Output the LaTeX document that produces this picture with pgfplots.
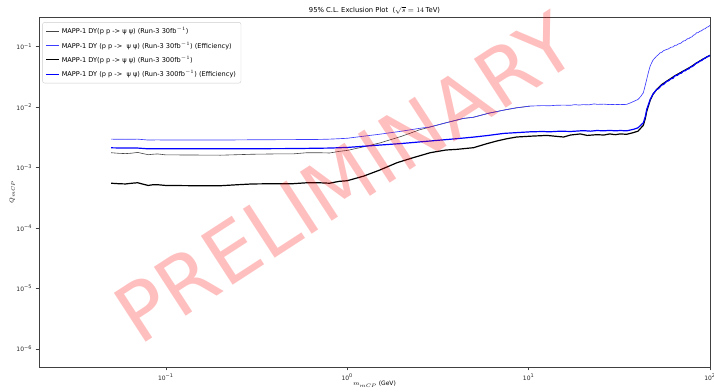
\documentclass[border=0pt]{standalone}
\usepackage{pgfplots}
\pgfplotsset{compat=1.18}
\usepackage{fontspec}
\setmainfont{DejaVu Sans}
\definecolor{lblue}{RGB}{60,60,255}
\definecolor{dgray}{RGB}{70,70,70}
\newcommand\logtick[1]{\pgfmathparse{int(round(#1))}\edef\lt{\pgfmathresult}10\textsuperscript{\ifnum\lt<0 −\the\numexpr-\lt\relax\else\lt\fi}}

\begin{document}
\begin{tikzpicture}[x=1pt,y=1pt]
\useasboundingbox (0,0) rectangle (714,391);
\begin{axis}[
  at={(39pt,24pt)}, anchor=south west,
  scale only axis, width=671pt, height=350pt,
  xmode=log, ymode=log, log basis x=10, log basis y=10,
  xmin=0.02, xmax=100, ymin=5e-7, ymax=0.31,
  axis line style={black!75, line width=0.6pt},
  xtick pos=bottom, ytick pos=left,
  tick align=outside,
  tick style={black!75, line width=0.5pt},
  major tick length=3.5pt, minor tick length=2pt,
  ticklabel style={font=\fontsize{6}{7}\selectfont, text=black!85},
  xtick={0.1,1,10,100}, ytick={1e-6,1e-5,1e-4,1e-3,1e-2,1e-1},
  xticklabel={\logtick{\tick}}, yticklabel={\logtick{\tick}},
  every axis title shift=0pt,
  title={95\% C.L. Exclusion Plot\ \ (\(\sqrt{s} = 14\,\)TeV)},
  title style={font=\fontsize{6.8}{8}\selectfont, at={(axis description cs:0.5,1.018)}, anchor=center},
  xlabel={\(m_{mCP}\) (GeV)},
  xlabel style={font=\fontsize{6}{7}\selectfont, at={(axis description cs:0.5,-0.049)}, anchor=center},
  ylabel={\(Q_{mCP}\)},
  ylabel style={font=\fontsize{6}{7}\selectfont, at={(axis description cs:-0.040,0.5)}, anchor=center},
  legend style={at={(0.005,0.985)}, anchor=north west, draw=black!20, rounded corners=2pt,
    fill=white, font=\fontsize{6.6}{7.4}\selectfont, row sep=2.4pt, inner xsep=3pt, inner ysep=3pt},
  legend cell align=left,
  legend image code/.code={\draw[#1] (0pt,0pt) -- (13pt,0pt);},
]
% Run-3 30 fb^-1 (black thin)
\addplot[dgray, line width=0.6pt] coordinates {
(0.05,1.76e-3)(0.055,1.72e-3)(0.06,1.70e-3)(0.065,1.73e-3)(0.07,1.78e-3)(0.075,1.70e-3)
(0.08,1.63e-3)(0.085,1.66e-3)(0.09,1.68e-3)(0.1,1.62e-3)(0.15,1.61e-3)(0.2,1.60e-3)
(0.3,1.66e-3)(0.4,1.68e-3)(0.5,1.68e-3)(0.6,1.76e-3)(0.7,1.76e-3)(0.8,1.74e-3)
(0.9,1.85e-3)(1.0,1.92e-3)(1.23,2.2e-3)(1.52,2.56e-3)(2.0,3.3e-3)(2.5,4.2e-3)(2.87,4.7e-3)
(3.5,5.5e-3)(4.37,6.5e-3)(4.97,6.8e-3)(6.0,7.9e-3)(7.27,8.9e-3)(8.5,9.7e-3)(10.2,1.04e-2)
};
\addlegendentry{MAPP-1 DY(p p -> ψ ψ) (Run-3 30fb\(^{-1}\))}
% Run-3 30 fb^-1 efficiency (blue thin)
\addplot[lblue, line width=0.65pt] coordinates {
(0.05,2.95e-3)(0.06,2.93e-3)(0.07,2.95e-3)(0.08,2.85e-3)(0.09,2.87e-3)(0.1,2.85e-3)
(0.15,2.85e-3)(0.2,2.85e-3)(0.3,2.88e-3)(0.5,2.90e-3)(0.7,2.92e-3)(0.8,2.95e-3)
(0.9,3.0e-3)(1.0,3.05e-3)(1.23,3.3e-3)(1.5,3.55e-3)(2.0,4.0e-3)(2.5,4.45e-3)(2.87,4.7e-3)
(3.5,5.5e-3)(4.37,6.5e-3)(4.97,6.8e-3)(6.0,7.9e-3)(7.27,8.9e-3)(8.5,9.7e-3)(10.2,1.04e-2)
(12,1.06e-2)(13,1.05e-2)(14,1.07e-2)(15.6,1.08e-2)(17,1.07e-2)(18,1.10e-2)(19,1.08e-2)
(20,1.10e-2)(21.5,1.09e-2)(23,1.13e-2)(24,1.11e-2)(26,1.12e-2)(28,1.10e-2)(30,1.11e-2)
(32,1.10e-2)(34.7,1.11e-2)(37,1.2e-2)(40.1,1.34e-2)(41.5,1.5e-2)(42.9,1.73e-2)(43.8,2.2e-2)
(44.8,2.9e-2)(45.8,3.8e-2)(46.8,4.8e-2)(48.5,6.0e-2)(50.8,7.0e-2)(52,7.4e-2)(53,7.9e-2)
(54,8.0e-2)(55.5,8.6e-2)(57.7,9.0e-2)(59,9.2e-2)(61,9.8e-2)(62.5,9.9e-2)(64,1.05e-1)
(65.5,1.06e-1)(67,1.11e-1)(69,1.14e-1)(71.3,1.24e-1)(73,1.26e-1)(75,1.35e-1)(76.5,1.36e-1)
(78,1.43e-1)(79.5,1.45e-1)(81,1.55e-1)(82.5,1.58e-1)(84.4,1.70e-1)(86,1.71e-1)(88,1.80e-1)
(90,1.84e-1)(92,1.95e-1)(94,1.98e-1)(96,2.10e-1)(98,2.14e-1)(100,2.25e-1)
};
\addlegendentry{MAPP-1 DY (p p ->\ \ ψ ψ) (Run-3 30fb\(^{-1}\)) (Efficiency)}
% Run-3 300 fb^-1 (black thick)
\addplot[black, line width=1.2pt] coordinates {
(0.05,5.5e-4)(0.055,5.4e-4)(0.06,5.35e-4)(0.065,5.5e-4)(0.07,5.6e-4)(0.075,5.3e-4)
(0.08,5.05e-4)(0.085,5.2e-4)(0.09,5.2e-4)(0.1,5.05e-4)(0.15,5.0e-4)(0.2,5.0e-4)
(0.25,5.2e-4)(0.3,5.35e-4)(0.4,5.4e-4)(0.5,5.4e-4)(0.6,5.6e-4)(0.7,5.6e-4)(0.8,5.5e-4)
(0.9,5.9e-4)(1.0,6.05e-4)(1.23,7.2e-4)(1.5,9.0e-4)(1.88,1.2e-3)(2.3,1.45e-3)(2.87,1.76e-3)
(3.5,1.95e-3)(4.02,2.0e-3)(4.97,2.13e-3)(5.8,2.45e-3)(6.68,2.75e-3)(7.6,3.0e-3)(8.6,3.2e-3)
(10.2,3.3e-3)(12.6,3.4e-3)(14,3.3e-3)(15.6,3.2e-3)(17,3.45e-3)(19.3,3.6e-3)(21,3.4e-3)
(23.8,3.5e-3)(26,3.45e-3)(28,3.6e-3)(30,3.5e-3)(32,3.6e-3)(34.7,3.55e-3)(38,3.8e-3)
(40.1,4.0e-3)(42.9,5.0e-3)(44,6.5e-3)(44.8,8.5e-3)(46,1.1e-2)(46.8,1.3e-2)(48.5,1.63e-2)
(50.8,1.95e-2)(54,2.35e-2)(57.7,2.68e-2)(64,3.3e-2)(71.3,3.96e-2)(78,4.6e-2)(84.4,5.4e-2)
(92,6.3e-2)(100,7.2e-2)
};
\addlegendentry{MAPP-1 DY(p p -> ψ ψ) (Run-3 300fb\(^{-1}\))}
% Run-3 300 fb^-1 efficiency (blue thick)
\addplot[blue, line width=1.2pt] coordinates {
(0.05,2.12e-3)(0.06,2.10e-3)(0.07,2.10e-3)(0.08,2.04e-3)(0.1,2.04e-3)(0.2,2.04e-3)
(0.5,2.06e-3)(0.8,2.10e-3)(1.0,2.15e-3)(1.5,2.35e-3)(2.0,2.5e-3)(2.87,2.75e-3)(4.0,3.0e-3)
(4.97,3.19e-3)(6,3.4e-3)(7.27,3.67e-3)(10.2,3.9e-3)(12,3.95e-3)(13,3.9e-3)(15,4.0e-3)
(17,3.95e-3)(20,4.08e-3)(22,4.0e-3)(23.8,4.1e-3)(26,4.05e-3)(28,4.12e-3)(30,4.05e-3)
(32,4.1e-3)(34.7,4.05e-3)(38,4.3e-3)(40.1,4.55e-3)(42.9,5.5e-3)(44,7e-3)(44.8,9.2e-3)
(46,1.15e-2)(46.8,1.34e-2)(48.5,1.65e-2)(50.8,1.96e-2)(52,2.02e-2)(54,2.3e-2)(55.5,2.38e-2)
(57.7,2.68e-2)(59,2.72e-2)(61,2.95e-2)(62.5,3.0e-2)(64,3.3e-2)(66,3.35e-2)(68,3.6e-2)
(69.5,3.65e-2)(71.3,3.96e-2)(73,4.0e-2)(75,4.25e-2)(76.5,4.3e-2)(78,4.6e-2)(80,4.7e-2)
(82,5.0e-2)(84.4,5.4e-2)(86,5.45e-2)(88,5.8e-2)(90,5.9e-2)(92,6.3e-2)(94,6.4e-2)
(96,6.8e-2)(98,6.9e-2)(100,7.2e-2)
};
\addlegendentry{MAPP-1 DY (p p ->\ \ ψ ψ) (Run-3 300fb\(^{-1}\)) (Efficiency)}
\end{axis}
\node[rotate=33, text=red, opacity=0.25, font=\fontsize{80}{80}\selectfont, inner sep=0pt]
  at (345,213) {PRELIMINARY};
\end{tikzpicture}
\end{document}
